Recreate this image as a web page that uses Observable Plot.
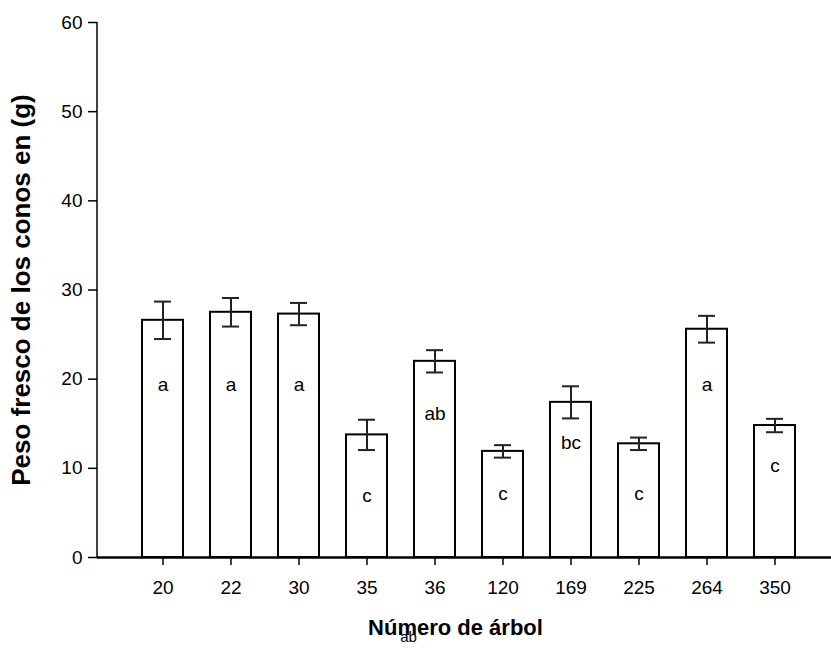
<!DOCTYPE html>
<html>
<head>
<meta charset="utf-8">
<script src="https://cdn.jsdelivr.net/npm/d3@7"></script>
<script src="https://cdn.jsdelivr.net/npm/@observablehq/plot@0.6"></script>
<style>
  body { margin: 0; background: #fff; }
  #chart svg { font-family: "Liberation Sans", Arial, sans-serif; }
</style>
</head>
<body>
<div id="chart"></div>
<script>
const trees   = ["20", "22", "30", "35", "36", "120", "169", "225", "264", "350"];
const means   = [26.6, 27.5, 27.3, 13.75, 22.0, 11.9, 17.4, 12.75, 25.6, 14.8];
const errors  = [2.1, 1.6, 1.25, 1.7, 1.25, 0.7, 1.8, 0.7, 1.5, 0.75];
const letters = ["a", "a", "a", "c", "ab", "c", "bc", "c", "a", "c"];
const letterY = [19.4, 19.4, 19.4, 6.9, 16.1, 7.1, 12.8, 7.1, 19.4, 10.3];
const yTicks  = [0, 10, 20, 30, 40, 50, 60];

const data = trees.map((t, i) => ({
  tree: t, mean: means[i], lo: means[i] - errors[i], hi: means[i] + errors[i],
  letter: letters[i], ly: letterY[i]
}));

// left axis line drawn along the frame's left edge through the y scale
function yAxisLine(index, scales, values, dims) {
  const line = document.createElementNS("http://www.w3.org/2000/svg", "line");
  const y0 = scales.y(yTicks[0]), y1 = scales.y(yTicks[yTicks.length - 1]);
  line.setAttribute("x1", dims.marginLeft);
  line.setAttribute("x2", dims.marginLeft);
  line.setAttribute("y1", y0);
  line.setAttribute("y2", y1);
  line.setAttribute("stroke", "black");
  line.setAttribute("stroke-width", 1.5);
  return line;
}

const chart = Plot.plot({
  width: 831,
  height: 648,
  marginTop: 22,
  marginBottom: 91,
  marginLeft: 97,
  marginRight: 0,
  style: { fontFamily: "Liberation Sans, Arial, sans-serif", fontSize: "19px", background: "#fff", overflow: "visible" },
  x: { domain: trees, paddingInner: 0.397, paddingOuter: 0.1985, insetLeft: 32, insetRight: 22, label: null },
  y: { domain: [0, 60], label: null },
  marks: [
    Plot.barY(data, { x: "tree", y: "mean", fill: "white", stroke: "black", strokeWidth: 2 }),
    Plot.ruleX(data, { x: "tree", y1: "lo", y2: "hi", stroke: "#222", strokeWidth: 2 }),
    Plot.tickY(data, { x: "tree", y: "lo", stroke: "#222", strokeWidth: 2, insetLeft: 12, insetRight: 12 }),
    Plot.tickY(data, { x: "tree", y: "hi", stroke: "#222", strokeWidth: 2, insetLeft: 12, insetRight: 12 }),
    Plot.text(data, { x: "tree", y: "ly", text: "letter", fontSize: 19, fill: "black" }),
    Plot.ruleY([0], { stroke: "black", strokeWidth: 2.5 }),
    yAxisLine,
    Plot.axisY({ ticks: yTicks, tickSize: 9, tickPadding: 6, fontSize: 19, stroke: "black", strokeWidth: 1.5, label: null, fill: "black" }),
    Plot.axisX({ tickSize: 8, tickPadding: 15, fontSize: 19, stroke: "black", strokeWidth: 1.5, label: null, fill: "black" }),
    Plot.text(["Peso fresco de los conos en (g)"], { frameAnchor: "left", textAnchor: "middle", dx: -76, rotate: -90, fontSize: 26, fontWeight: "bold", fill: "black" }),
    Plot.text(["Número de árbol"], { frameAnchor: "bottom", textAnchor: "middle", dx: -9, dy: 77, fontSize: 22, fontWeight: "bold", fill: "black" }),
    Plot.text(["ab"], { frameAnchor: "bottom", textAnchor: "middle", dx: -56, dy: 84, fontSize: 15, fill: "black" })
  ]
});
document.getElementById("chart").appendChild(chart);
</script>
</body>
</html>
